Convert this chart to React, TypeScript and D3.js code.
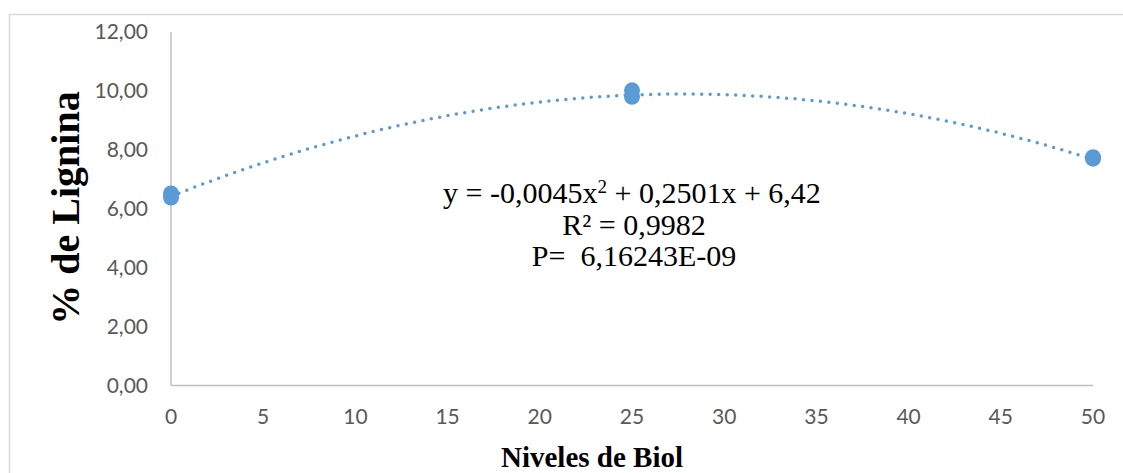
import * as d3 from 'd3';

// measured points (Niveles de Biol vs % de Lignina)
const biolLevels = [0, 0, 25, 25, 50, 50];
const ligninValues = [6.52, 6.38, 10.02, 9.8, 7.75, 7.7];

// polynomial trendline coefficients shown on the chart (a x^2 + b x + c)
const trendCoefs = [-0.0045, 0.2501, 6.42];
const equationLines = ['R² = 0,9982', 'P=  6,16243E-09'];

const xTicks = [0, 5, 10, 15, 20, 25, 30, 35, 40, 45, 50];
const yTicks = [0, 2, 4, 6, 8, 10, 12];

const W = 1123;
const H = 473;
const margin = { top: 32, right: 30, bottom: 88, left: 171 };

export default function App() {
  const x = d3.scaleLinear().domain([0, 50]).range([margin.left, 1093]);
  const y = d3.scaleLinear().domain([0, 12]).range([H - margin.bottom + 0.5, margin.top]);

  const fmt = (v: number) => v.toFixed(2).replace('.', ',');

  const trendPts = d3.range(0, 50.01, 0.25).map(v => [v, trendCoefs[0] * v * v + trendCoefs[1] * v + trendCoefs[2]] as [number, number]);
  const line = d3.line<[number, number]>()
    .x(d => x(d[0]))
    .y(d => y(d[1]))
    .curve(d3.curveMonotoneX);

  const tickFont = 'Lato, "Open Sans", sans-serif';
  const serif = '"Liberation Serif", "DejaVu Serif", serif';

  return (
    <svg width={W} height={H} style={{ position: 'absolute', left: 0, top: 0, display: 'block' }}>
      <rect x={0} y={0} width={W} height={H} fill="#fff" />
      {/* chart frame */}
      <path d={`M9.5,${H} V14.5 H${W}`} fill="none" stroke="#d9d9d9" strokeWidth={1.5} />

      {/* axes */}
      <line x1={x(0)} x2={x(0)} y1={y(12)} y2={y(0)} stroke="#bfbfbf" strokeWidth={1.5} />
      <line x1={x(0)} x2={x(50)} y1={y(0)} y2={y(0)} stroke="#bfbfbf" strokeWidth={1.5} />

      {yTicks.map(t => (
        <text key={`y${t}`} x={148} y={y(t)} dy="0.35em" textAnchor="end"
          fontFamily={tickFont} fontSize={21} fill="#595959">{fmt(t)}</text>
      ))}
      {xTicks.map(t => (
        <text key={`x${t}`} x={x(t)} y={417} dy="0.35em" textAnchor="middle"
          fontFamily={tickFont} fontSize={21} fill="#595959">{t}</text>
      ))}

      {/* trendline */}
      <path d={line(trendPts) ?? ''} fill="none" stroke="#5b9bd5" strokeWidth={3.5}
        strokeLinecap="round" strokeDasharray="0 8.5" />

      {/* points */}
      {biolLevels.map((b, i) => (
        <circle key={i} cx={x(b)} cy={y(ligninValues[i])} r={8} fill="#5b9bd5" />
      ))}

      {/* equation */}
      <text x={632} y={203} textAnchor="middle" fontFamily={serif} fontSize={30} fill="#000">
        y = -0,0045x<tspan dy={-10} fontSize={19}>2</tspan><tspan dy={10}> + 0,2501x + 6,42</tspan>
      </text>
      {equationLines.map((l, i) => (
        <text key={l} x={634} y={235 + i * 31} textAnchor="middle" fontFamily={serif} fontSize={30}
          fill="#000" style={{ whiteSpace: 'pre' }}>{l}</text>
      ))}

      {/* axis titles */}
      <text transform={`translate(79,208) rotate(-90)`} textAnchor="middle" fontFamily={serif}
        fontSize={40} fontWeight="bold" fill="#000">% de Lignina</text>
      <text x={592} y={467} textAnchor="middle" fontFamily={serif} fontSize={29}
        fontWeight="bold" fill="#000">Niveles de Biol</text>
    </svg>
  );
}
